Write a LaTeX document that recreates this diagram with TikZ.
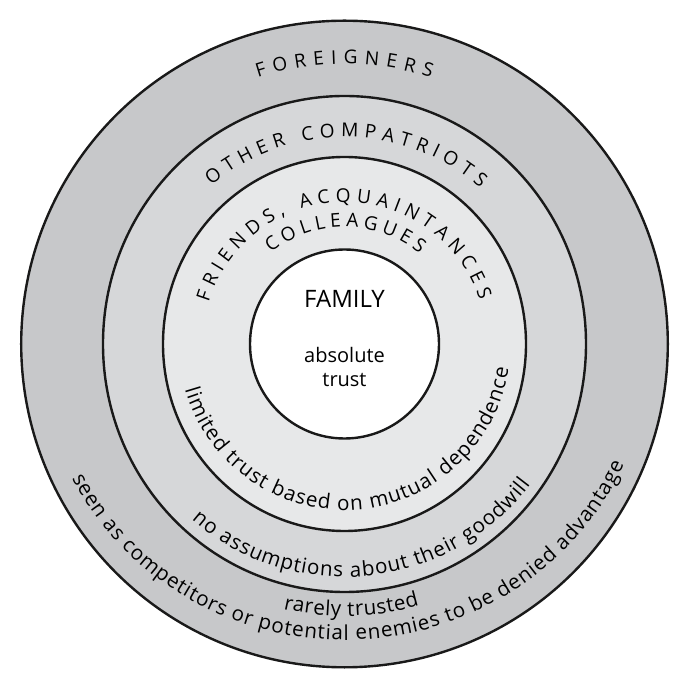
\documentclass[tikz,border=0pt]{standalone}
\usepackage{fontspec}
\setmainfont{Open Sans}
\usetikzlibrary{decorations.text}
\usepackage{xcolor}
\definecolor{bandfar}{HTML}{C7C8CA}
\definecolor{bandmid}{HTML}{D6D7D9}
\definecolor{bandnear}{HTML}{E7E8E9}
\newcommand{\capsize}{\fontsize{9.5}{11}\selectfont}
\newcommand{\plainsize}{\fontsize{10}{12}\selectfont}
\newcommand{\footsize}{\fontsize{10.3}{12}\selectfont}
\tikzset{
  ring/.style={draw=black!90, line width=1.2pt},
  archead/.style={decorate, decoration={text along path, text align={fit to path}, text={|\capsize|#1}}},
  arcfoot/.style={decorate, decoration={text along path, text align={fit to path}, text={|\footsize|#1}}},
}

\begin{document}
\begin{tikzpicture}[x=0.5pt, y=0.5pt]
\fill[white] (-344.5,-345) rectangle (344.5,344);
\useasboundingbox (-344.5,-345) rectangle (344.5,344);
\coordinate (c) at (0,0);
% the four zones
\draw[ring, fill=bandfar] (c) circle[radius=323.3];
\draw[ring, fill=bandmid] (c) ellipse[x radius=241.5, y radius=248];
\draw[ring, fill=bandnear] (c) ellipse[x radius=181.5, y radius=187];
\draw[ring, fill=white] (c) circle[radius=94.5];
% names over the top
\path[archead=FOREIGNERS] (108:280) arc[start angle=108, end angle=72, radius=280];
\path[archead={OTHER COMPATRIOTS}] (130:207) arc[start angle=130, end angle=49, radius=207];
\path[archead={FRIENDS, ACQUAINTANCES}] (163:142) arc[start angle=163, end angle=18, radius=142];
\path[archead=COLLEAGUES] (129:117) arc[start angle=129, end angle=50, radius=117];
% trust under the bottom
\path[arcfoot={limited trust based on mutual dependence}] (196:166) arc[start angle=196, end angle=351.5, radius=166];
\path[arcfoot={no assumptions about their goodwill}] (229:233) arc[start angle=229, end angle=323, radius=233];
\path[arcfoot={rarely trusted}] (257:272) arc[start angle=257, end angle=286, radius=272];
\path[arcfoot={seen as competitors or potential enemies to be denied advantage}] (207:306 and 296) arc[start angle=207, end angle=336, x radius=306, y radius=296];
% the centre
\node (family) [anchor=base, font=\fontsize{12}{14}\selectfont] at (0,36) {FAMILY};
\node (absolute) [anchor=base, align=center, font=\plainsize] at (0,-43) {absolute\\trust};
\end{tikzpicture}
\end{document}
